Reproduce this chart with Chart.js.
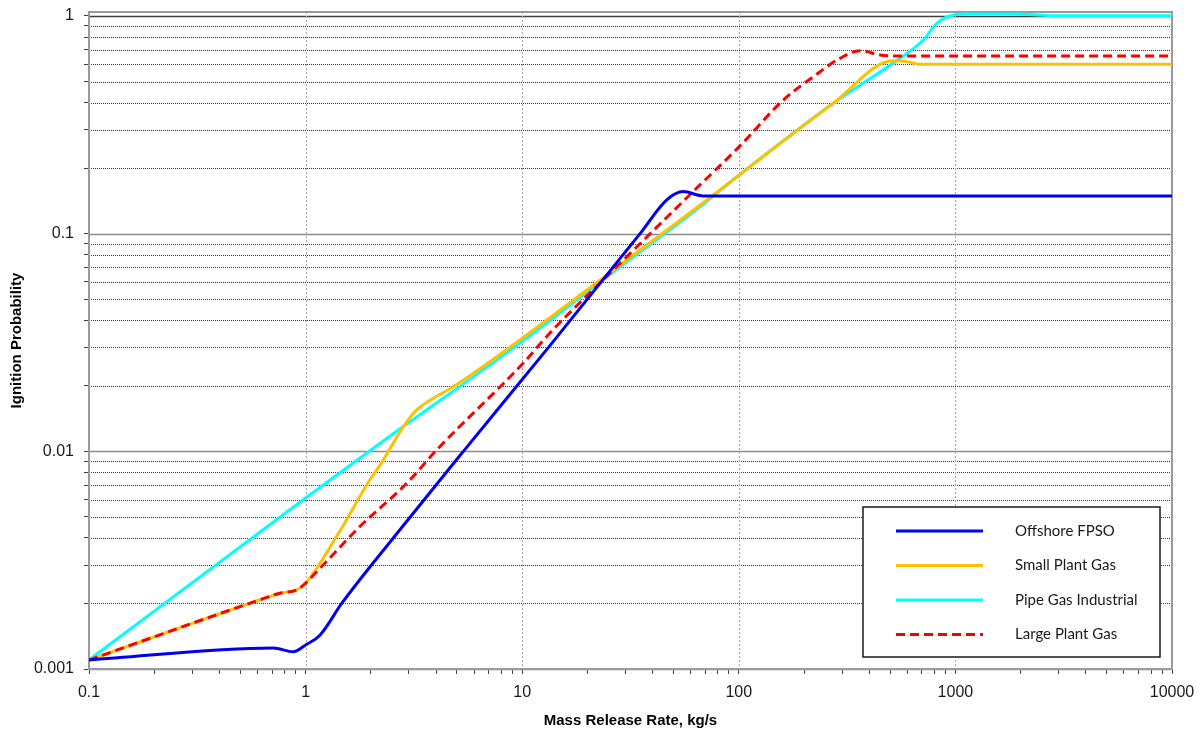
<!DOCTYPE html>
<html>
<head>
<meta charset="utf-8">
<title>Ignition Probability vs Mass Release Rate</title>
<script src="https://cdn.jsdelivr.net/npm/chart.js@4.4.1/dist/chart.umd.min.js"></script>
<style>
  html, body { margin: 0; padding: 0; background: #fff; }
  #wrap { width: 1201px; height: 735px; }
</style>
</head>
<body>
<div id="wrap"><canvas id="chart" width="1201" height="735"></canvas></div>
<script>
// ── data (x = kg/s, y = probability) ──
const seriesNames = ['Offshore FPSO', 'Small Plant Gas', 'Pipe Gas Industrial', 'Large Plant Gas'];

const fpsoX = [0.1, 0.708, 0.877, 1.0, 1.165, 1.468, 2.54, 5.35, 13.4, 35, 46.5, 55.4, 68.5, 100, 10000];
const fpsoY = [0.0011, 0.00125, 0.0012, 0.00129, 0.00143, 0.002, 0.0040, 0.0100, 0.0305, 0.1, 0.143, 0.156, 0.149, 0.149, 0.149];

const smallX = [0.1, 0.616, 0.762, 0.91, 1.0, 1.39, 1.98, 2.21, 2.83, 3.26, 3.89, 4.81, 9.77, 26.3, 66.2, 100.5, 273, 515, 596, 687, 10000];
const smallY = [0.0011, 0.00208, 0.00223, 0.00231, 0.00248, 0.00406, 0.0074, 0.00866, 0.013, 0.0155, 0.01754, 0.0198, 0.0325, 0.068, 0.135, 0.186, 0.397, 0.623, 0.617, 0.6, 0.6];

const pipeX = [0.1, 1.0, 2.21, 9.77, 26.3, 66.2, 100.5, 273, 555, 711, 820, 944, 1089, 1919, 2735, 10000];
const pipeY = [0.0011, 0.0061, 0.0109, 0.0314, 0.0666, 0.133, 0.186, 0.397, 0.639, 0.776, 0.926, 1.0, 1.021, 1.021, 1.0035, 1.0035];

const largeX = [0.1, 0.616, 0.762, 0.91, 1.0, 1.165, 1.78, 2.93, 4.03, 10.1, 13.4, 26.3, 66.2, 100.5, 160.5, 221, 293, 363, 449, 515, 10000];
const largeY = [0.0011, 0.00208, 0.00223, 0.00231, 0.00248, 0.0029, 0.00451, 0.00713, 0.01015, 0.0254, 0.0349, 0.068, 0.1675, 0.251, 0.411, 0.526, 0.639, 0.693, 0.662, 0.655, 0.655];

const xTickLabels = ['0.1', '1', '10', '100', '1000', '10000'];
const yTickLabels = ['0.001', '0.01', '0.1', '1'];
const minorSteps = [2, 3, 4, 5, 6, 7, 8, 9];

const xTitle = 'Mass Release Rate, kg/s';
const yTitle = 'Ignition Probability';

// ── helpers ──
const TICK_FONT = '"Liberation Sans", Arial, sans-serif';

function tickValues(labels) {
  const out = [];
  labels.forEach((l, i) => {
    const d = Number(l);
    out.push(d);
    if (i < labels.length - 1) minorSteps.forEach(m => out.push(d * m));
  });
  return out;
}
const xTickValues = tickValues(xTickLabels);
const yTickValues = tickValues(yTickLabels);

function isDecade(v) {
  const l = Math.log10(v);
  return Math.abs(l - Math.round(l)) < 1e-9;
}
function labelFor(v, labels) {
  const hit = labels.find(l => Math.abs(Number(l) - v) / v < 1e-6);
  return hit || '';
}
function pts(xs, ys) { return xs.map((x, i) => ({ x, y: ys[i] })); }

// ── grid & frame (Excel-like: dotted minors, solid majors) ──
const gridPlugin = {
  id: 'excelGrid',
  beforeDatasetsDraw(chart) {
    const { ctx, chartArea: a, scales: { x, y } } = chart;
    ctx.save();
    // horizontal lines
    yTickValues.forEach(v => {
      const py = Math.round(y.getPixelForValue(v)) + 0.5;
      ctx.beginPath();
      if (isDecade(v)) {
        ctx.setLineDash([]);
        ctx.strokeStyle = v === 1 ? '#404040' : '#8c8c8c';
        ctx.lineWidth = 1.5;
      } else {
        ctx.setLineDash([1, 1]);
        ctx.strokeStyle = '#3a3a3a';
        ctx.lineWidth = 1;
      }
      ctx.moveTo(a.left, py);
      ctx.lineTo(a.right, py);
      ctx.stroke();
    });
    // vertical lines at decades only
    ctx.setLineDash([2, 2]);
    ctx.strokeStyle = '#a6a6a6';
    ctx.lineWidth = 1;
    xTickValues.filter(isDecade).forEach(v => {
      const px = Math.round(x.getPixelForValue(v)) + 0.5;
      if (px < a.left + 2 || px > a.right - 2) return;
      ctx.beginPath();
      ctx.moveTo(px, a.top);
      ctx.lineTo(px, a.bottom);
      ctx.stroke();
    });
    // frame
    ctx.setLineDash([]);
    ctx.strokeStyle = '#9a9a9a';
    ctx.lineWidth = 2;
    ctx.strokeRect(a.left, a.top, a.right - a.left, a.bottom - a.top);
    ctx.restore();
  }
};

// ── boxed legend inside the plot area ──
const legendPlugin = {
  id: 'boxLegend',
  afterDatasetsDraw(chart) {
    const { ctx, chartArea: a } = chart;
    const w = 297, h = 150;
    const left = a.right - 12 - w, top = a.bottom - 12 - h;
    ctx.save();
    ctx.fillStyle = '#fff';
    ctx.fillRect(left, top, w, h);
    ctx.strokeStyle = '#1a1a1a';
    ctx.lineWidth = 1.5;
    ctx.strokeRect(left, top, w, h);
    chart.data.datasets.forEach((ds, i) => {
      const yy = top + 24 + i * 34.5;
      ctx.beginPath();
      ctx.strokeStyle = ds.borderColor;
      ctx.lineWidth = 3;
      ctx.setLineDash(ds.borderDash || []);
      ctx.moveTo(left + 33, yy);
      ctx.lineTo(left + 120, yy);
      ctx.stroke();
      ctx.setLineDash([]);
      ctx.fillStyle = '#1a1a1a';
      ctx.font = '15px Lato, "Open Sans", sans-serif';
      ctx.textBaseline = 'middle';
      ctx.fillText(ds.label, left + 152, yy);
    });
    ctx.restore();
  }
};

const lineStyle = {
  pointRadius: 0,
  pointHoverRadius: 0,
  borderWidth: 3,
  fill: false,
  cubicInterpolationMode: 'monotone'
};

new Chart(document.getElementById('chart'), {
  type: 'line',
  data: {
    datasets: [
      { ...lineStyle, label: seriesNames[0], data: pts(fpsoX, fpsoY), borderColor: '#0000f0', order: 1 },
      { ...lineStyle, label: seriesNames[1], data: pts(smallX, smallY), borderColor: '#ffc000', order: 3 },
      { ...lineStyle, label: seriesNames[2], data: pts(pipeX, pipeY), borderColor: '#00ffff', order: 4 },
      { ...lineStyle, label: seriesNames[3], data: pts(largeX, largeY), borderColor: '#ff0000', borderDash: [9, 5], order: 2 }
    ]
  },
  options: {
    responsive: false,
    animation: false,
    devicePixelRatio: 1,
    layout: { padding: { left: 0, right: 29, top: 12, bottom: 0 } },
    plugins: { legend: { display: false }, tooltip: { enabled: false } },
    scales: {
      x: {
        type: 'logarithmic',
        position: 'bottom',
        min: 0.1,
        max: 10000,
        afterBuildTicks: s => { s.ticks = xTickValues.map(v => ({ value: v })); },
        afterFit: s => { s.height = 66; s.paddingLeft = 0; s.paddingRight = 0; },
        grid: { drawOnChartArea: false, drawTicks: true, tickLength: 5, tickColor: '#404040', tickWidth: 1 },
        border: { display: true, color: '#404040', width: 1.5 },
        ticks: {
          autoSkip: false, maxRotation: 0, minRotation: 0, padding: 9,
          color: '#1a1a1a',
          font: { family: TICK_FONT, size: 16 },
          callback: v => labelFor(v, xTickLabels)
        },
        title: {
          display: true, text: xTitle, color: '#000',
          font: { family: TICK_FONT, size: 15, weight: 'bold' },
          padding: { top: 0, bottom: 5 }
        }
      },
      y: {
        type: 'logarithmic',
        position: 'left',
        min: 0.001,
        max: 1.043,
        afterBuildTicks: s => { s.ticks = yTickValues.map(v => ({ value: v })); },
        afterFit: s => { s.width = 89; s.paddingTop = 0; s.paddingBottom = 0; },
        grid: { drawOnChartArea: false, drawTicks: true, tickLength: 5, tickColor: '#404040', tickWidth: 1 },
        border: { display: true, color: '#404040', width: 1.5 },
        ticks: {
          autoSkip: false, padding: 10,
          color: '#1a1a1a',
          font: { family: TICK_FONT, size: 16 },
          callback: v => labelFor(v, yTickLabels)
        },
        title: {
          display: true, text: yTitle, color: '#000',
          font: { family: TICK_FONT, size: 15, weight: 'bold' },
          padding: { top: 8, bottom: 0 }
        }
      }
    }
  },
  plugins: [gridPlugin, legendPlugin]
});
</script>
</body>
</html>
